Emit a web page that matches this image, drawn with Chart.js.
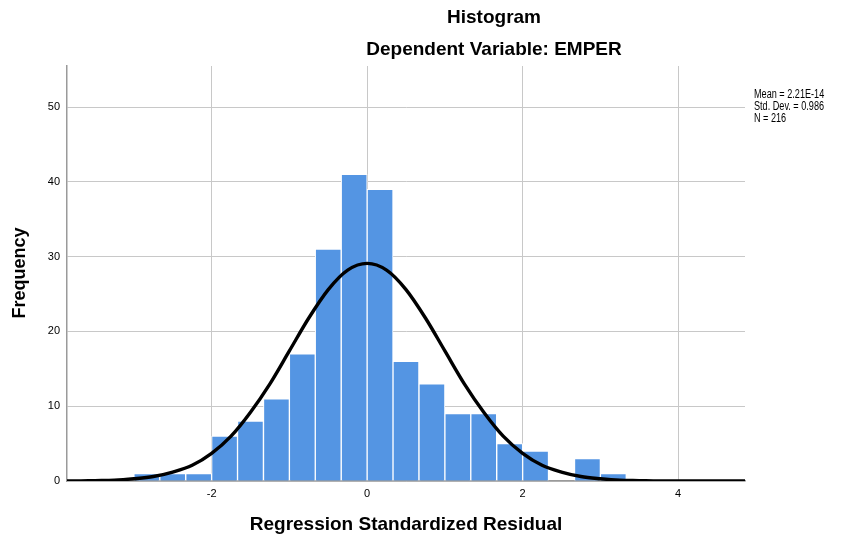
<!DOCTYPE html>
<html>
<head>
<meta charset="utf-8">
<script src="https://cdn.jsdelivr.net/npm/chart.js@4"></script>
<style>
  body { margin: 0; background: #fff; }
  #wrap { width: 855px; height: 542px; }
</style>
</head>
<body>
<div id="wrap"><canvas id="myHist" width="855" height="542"></canvas></div>
<script>
// histogram bins (lower edge, width 1/3) and counts
const binEdges = [-3, -2.667, -2.333, -2, -1.667, -1.333, -1, -0.667, -0.333, 0,
  0.333, 0.667, 1, 1.333, 1.667, 2, 2.333, 2.667, 3];
const binCounts = [1, 1, 1, 6, 8, 11, 17, 31, 41, 39, 16, 13, 9, 9, 5, 4, 0, 3, 1];
const binWidth = 1 / 3;

// normal curve, heights read along the x axis
const curveX = [-3.86, -3.75, -3.5, -3.25, -3, -2.75, -2.5, -2.25, -2, -1.75, -1.5, -1.25, -1,
  -0.75, -0.5, -0.25, 0, 0.25, 0.5, 0.75, 1, 1.25, 1.5, 1.75, 2, 2.25, 2.5, 2.75, 3,
  3.25, 3.5, 3.75, 4, 4.5, 4.86];
const curveY = [0, 0, 0.05, 0.1, 0.3, 0.6, 1.2, 2.1, 3.7, 6.0, 9.2, 13.0, 17.4,
  21.8, 25.6, 28.2, 29.1, 28.2, 25.6, 21.8, 17.4, 13.0, 9.2, 6.0, 3.7, 2.1, 1.2, 0.6, 0.3,
  0.1, 0.05, 0, 0, 0, 0];

const xTicks = [-2, 0, 2, 4];
const yTicks = [0, 10, 20, 30, 40, 50];
const statsText = ["Mean = 2.21E-14", "Std. Dev. = 0.986", "N = 216"];

const textPlugin = {
  id: "spssText",
  afterDraw(chart) {
    const c = chart.ctx;
    const a = chart.chartArea;
    c.save();
    c.fillStyle = "#000";
    c.textAlign = "center";
    c.textBaseline = "middle";
    c.font = "bold 19px 'Liberation Sans', Arial, sans-serif";
    c.fillText("Histogram", 494, 18);
    c.fillText("Dependent Variable: EMPER", 494, 50);
    c.fillText("Regression Standardized Residual", (a.left + a.right) / 2, 525);
    c.save();
    c.font = "bold 18px 'Liberation Sans', Arial, sans-serif";
    c.translate(20, 273);
    c.rotate(-Math.PI / 2);
    c.fillText("Frequency", 0, 0);
    c.restore();
    // narrow text for the stats box
    c.textAlign = "left";
    c.font = "12px 'Liberation Sans', Arial, sans-serif";
    c.translate(754, 0);
    c.scale(0.76, 1);
    statsText.forEach((t, i) => c.fillText(t, 0, 95 + i * 12));
    c.restore();
  }
};

const canvas_hist = document.getElementById("myHist");
let myChart_hist = new Chart(canvas_hist, {
  data: {
    datasets: [
      {
        type: "line",
        data: curveX.map((x, i) => ({ x: x, y: curveY[i] })),
        borderColor: "#000",
        borderWidth: 3.4,
        pointRadius: 0,
        cubicInterpolationMode: "monotone",
        order: 0,
      },
      {
        type: "bar",
        data: binEdges.map((e, i) => ({ x: e + binWidth / 2, y: binCounts[i] })),
        backgroundColor: "rgb(84,149,227)",
        borderColor: "#ffffff",
        borderWidth: 1,
        borderSkipped: "bottom",
        barPercentage: 1,
        categoryPercentage: 1,
        order: 1,
      },
    ],
  },
  options: {
    responsive: false,
    animation: false,
    events: [],
    layout: { padding: { top: 66, right: 110, left: 0, bottom: 0 } },
    plugins: { legend: { display: false }, tooltip: { enabled: false } },
    scales: {
      x: {
        type: "linear",
        min: -3.86,
        max: 4.86,
        offset: false,
        afterBuildTicks: (s) => { s.ticks = xTicks.map((v) => ({ value: v })); },
        afterFit: (s) => { s.height = 61; },
        ticks: {
          color: "#000",
          padding: 6,
          maxRotation: 0,
          font: { family: "'Liberation Sans', Arial, sans-serif", size: 11 },
        },
        grid: { color: "#c8c8c8", lineWidth: 1, drawTicks: false, offset: false },
        border: { color: "#9a9a9a", width: 1.5 },
      },
      y: {
        min: 0,
        max: 55.5,
        afterBuildTicks: (s) => { s.ticks = yTicks.map((v) => ({ value: v })); },
        afterFit: (s) => { s.width = 67; },
        ticks: {
          color: "#000",
          padding: 7,
          font: { family: "'Liberation Sans', Arial, sans-serif", size: 11 },
        },
        grid: { color: "#c8c8c8", lineWidth: 1, drawTicks: false },
        border: { color: "#9a9a9a", width: 1.5 },
      },
    },
  },
  plugins: [textPlugin],
});
</script>
</body>
</html>
